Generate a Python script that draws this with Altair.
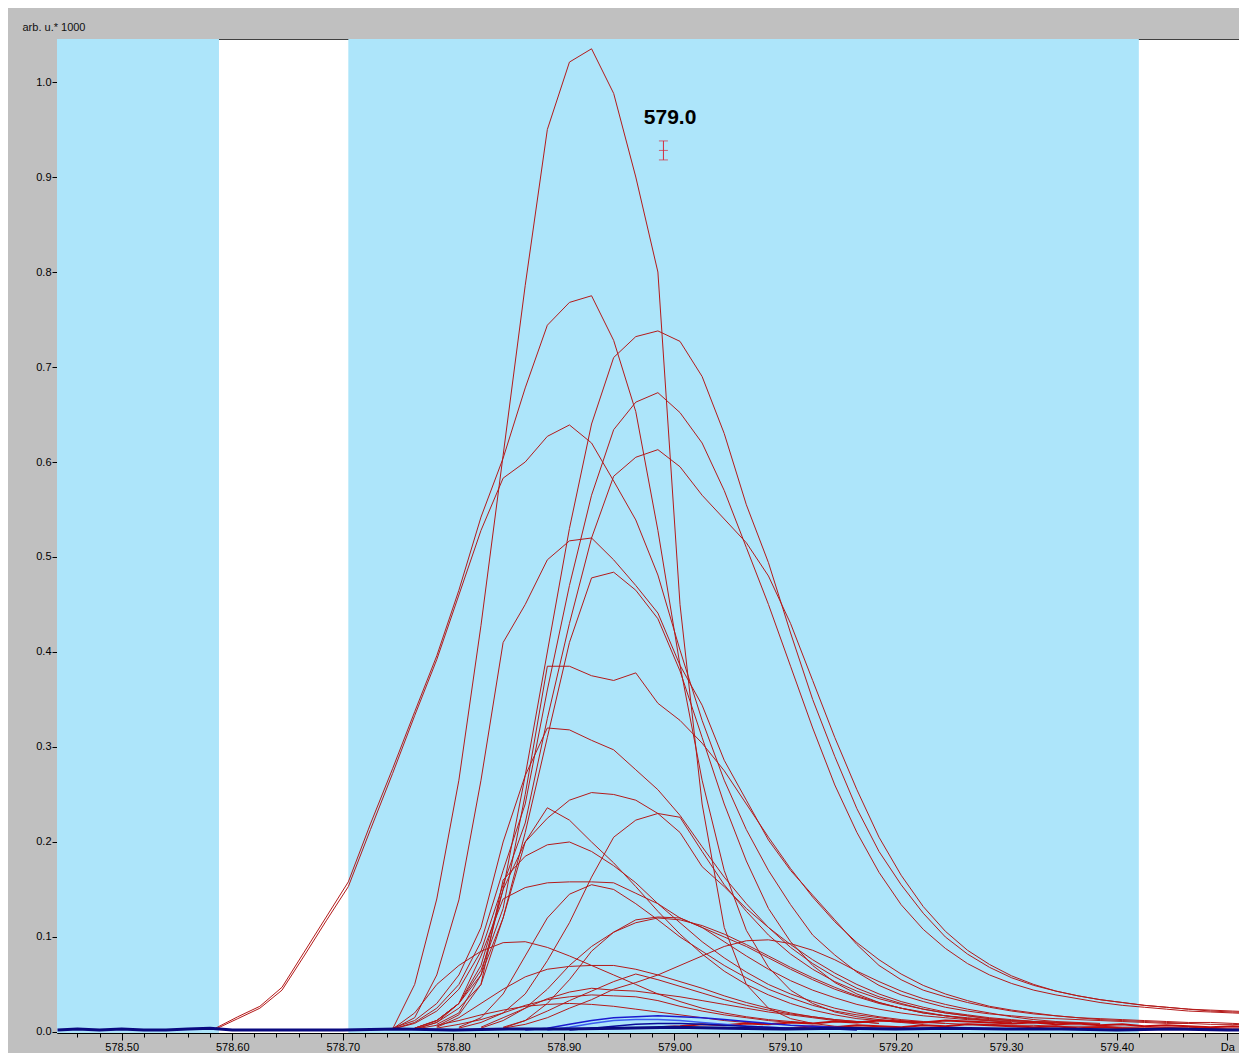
import altair as alt
import pandas as pd

# ---------------- data ----------------
# m/z grid on which the spectra were sampled
MZ = [578.585, 578.605, 578.625, 578.645, 578.665, 578.685, 578.705, 578.725,
      578.745, 578.765, 578.785, 578.805, 578.825, 578.845, 578.865, 578.885,
      578.905, 578.925, 578.945, 578.965, 578.985, 579.005, 579.025, 579.045,
      579.065, 579.085, 579.105, 579.125, 579.145, 579.165, 579.185, 579.205,
      579.225, 579.245, 579.265, 579.285, 579.305, 579.325, 579.345, 579.365,
      579.385, 579.405, 579.425, 579.445, 579.465, 579.485, 579.505, 579.525]

# red spectra: (first grid index, intensities in arb. u. * 1000)
T1 = (8, [0.003, 0.05, 0.14, 0.265, 0.428, 0.607, 0.786, 0.95, 1.021, 1.035, 0.988, 0.90, 0.80,
          0.45, 0.24, 0.11, 0.05, 0.025, 0.014, 0.009, 0.006, 0.005, 0.004, 0.004, 0.003])
T2 = (0, [0.004, 0.016, 0.027, 0.047, 0.084, 0.121, 0.158, 0.219, 0.277, 0.337, 0.396, 0.465,
          0.542, 0.604, 0.678, 0.744, 0.768, 0.775, 0.728, 0.653, 0.528, 0.386, 0.265, 0.17,
          0.107, 0.068, 0.044, 0.03, 0.021, 0.016, 0.013, 0.011, 0.01, 0.009, 0.008, 0.008,
          0.007, 0.007, 0.006, 0.006, 0.006, 0.005, 0.005, 0.005, 0.005, 0.004, 0.004, 0.004])
T3 = (0, [0.003, 0.014, 0.025, 0.044, 0.08, 0.117, 0.153, 0.213, 0.272, 0.333, 0.392, 0.46,
          0.528, 0.583, 0.60, 0.627, 0.639, 0.62, 0.58, 0.539, 0.481, 0.402, 0.328, 0.265,
          0.213, 0.17, 0.134, 0.102, 0.081, 0.063, 0.049, 0.039, 0.032, 0.026, 0.022, 0.019,
          0.017, 0.015, 0.014, 0.013, 0.012, 0.011, 0.01, 0.009, 0.009, 0.008, 0.008, 0.007])
R1 = (8, [0.004, 0.012, 0.03, 0.06, 0.11, 0.2, 0.27, 0.40, 0.53, 0.64, 0.71, 0.732, 0.738,
          0.727, 0.69, 0.63, 0.555, 0.494, 0.42, 0.35, 0.29, 0.235, 0.19, 0.155, 0.125, 0.1,
          0.082, 0.068, 0.057, 0.049, 0.043, 0.038, 0.034, 0.031, 0.028, 0.026, 0.024, 0.023,
          0.022, 0.021])
R2 = (8, [0.003, 0.01, 0.025, 0.05, 0.095, 0.17, 0.24, 0.36, 0.47, 0.565, 0.634, 0.663, 0.673,
          0.652, 0.62, 0.57, 0.51, 0.45, 0.385, 0.32, 0.26, 0.21, 0.168, 0.134, 0.108, 0.088,
          0.072, 0.06, 0.051, 0.044, 0.039, 0.035, 0.031, 0.028, 0.026, 0.024, 0.022, 0.021,
          0.02, 0.019])
R3 = (8, [0.003, 0.009, 0.022, 0.045, 0.085, 0.155, 0.22, 0.33, 0.43, 0.52, 0.585, 0.605, 0.613,
          0.595, 0.565, 0.54, 0.515, 0.48, 0.43, 0.37, 0.31, 0.255, 0.205, 0.165, 0.132, 0.106,
          0.086, 0.071, 0.059, 0.05, 0.043, 0.038, 0.034, 0.031, 0.028, 0.026, 0.024, 0.022,
          0.021, 0.02])
R4 = (8, [0.003, 0.015, 0.06, 0.139, 0.265, 0.41, 0.45, 0.497, 0.517, 0.52, 0.497, 0.47, 0.441,
          0.386, 0.344, 0.286, 0.244, 0.202, 0.17, 0.144, 0.118, 0.092, 0.07, 0.055, 0.044,
          0.037, 0.031, 0.026, 0.022, 0.019, 0.017, 0.015, 0.014, 0.013, 0.012, 0.011, 0.01,
          0.01, 0.009, 0.008])
R5 = (9, [0.004, 0.012, 0.03, 0.06, 0.12, 0.21, 0.31, 0.41, 0.478, 0.484, 0.465, 0.435, 0.38,
          0.31, 0.24, 0.18, 0.13, 0.095, 0.07, 0.052, 0.04, 0.031, 0.025, 0.02, 0.017, 0.015,
          0.013, 0.012, 0.011, 0.01, 0.009, 0.008])
R6 = (9, [0.004, 0.012, 0.03, 0.065, 0.13, 0.25, 0.385, 0.385, 0.375, 0.37, 0.378, 0.346, 0.328,
          0.304, 0.275, 0.24, 0.205, 0.172, 0.142, 0.116, 0.094, 0.076, 0.061, 0.049, 0.04,
          0.033, 0.027, 0.023, 0.02, 0.017, 0.015, 0.013, 0.012, 0.011, 0.01, 0.009])
R7 = (9, [0.004, 0.012, 0.03, 0.07, 0.15, 0.27, 0.32, 0.318, 0.307, 0.297, 0.276, 0.255, 0.228,
          0.195, 0.163, 0.135, 0.11, 0.089, 0.072, 0.058, 0.046, 0.037, 0.03, 0.024, 0.02,
          0.017, 0.014, 0.012, 0.011, 0.01, 0.009])
R8 = (9, [0.003, 0.01, 0.025, 0.05, 0.12, 0.2, 0.225, 0.244, 0.252, 0.25, 0.244, 0.23, 0.21,
          0.174, 0.153, 0.13, 0.11, 0.092, 0.076, 0.062, 0.05, 0.04, 0.032, 0.026, 0.021, 0.018,
          0.015, 0.013, 0.011, 0.01, 0.009])
R9 = (10, [0.008, 0.02, 0.06, 0.15, 0.2, 0.236, 0.223, 0.2, 0.178, 0.153, 0.127, 0.103, 0.082,
           0.064, 0.05, 0.039, 0.03, 0.023, 0.018, 0.014, 0.012, 0.01, 0.008])
R10 = (11, [0.004, 0.01, 0.02, 0.04, 0.075, 0.115, 0.163, 0.205, 0.223, 0.23, 0.226, 0.19, 0.155,
            0.127, 0.102, 0.082, 0.066, 0.053, 0.043, 0.035, 0.029, 0.024, 0.02, 0.017, 0.014,
            0.012, 0.011, 0.01])
R11 = (10, [0.006, 0.018, 0.05, 0.16, 0.185, 0.197, 0.2, 0.19, 0.175, 0.157, 0.135, 0.115, 0.095,
            0.078, 0.063, 0.05, 0.04, 0.032, 0.025, 0.02, 0.016, 0.013, 0.011, 0.009])
R12 = (9, [0.003, 0.01, 0.03, 0.08, 0.14, 0.152, 0.157, 0.158, 0.158, 0.157, 0.146, 0.135, 0.12,
           0.11, 0.095, 0.08, 0.066, 0.054, 0.044, 0.036, 0.029, 0.024, 0.02, 0.017, 0.015,
           0.013, 0.012, 0.011, 0.01])
R13 = (11, [0.005, 0.015, 0.04, 0.08, 0.12, 0.145, 0.155, 0.15, 0.135, 0.118, 0.1, 0.085, 0.07,
            0.057, 0.045, 0.036, 0.028, 0.022, 0.018, 0.015, 0.012, 0.01])
R14 = (13, [0.004, 0.012, 0.03, 0.055, 0.085, 0.105, 0.118, 0.121, 0.12, 0.11, 0.1, 0.09, 0.078,
            0.066, 0.055, 0.045, 0.037, 0.03, 0.025, 0.02, 0.017, 0.014, 0.012, 0.01])
R15 = (13, [0.004, 0.008, 0.015, 0.025, 0.034, 0.045, 0.052, 0.06, 0.07, 0.08, 0.09, 0.096, 0.097,
            0.093, 0.086, 0.076, 0.064, 0.053, 0.043, 0.035, 0.029, 0.024, 0.02, 0.016, 0.013,
            0.011, 0.01, 0.009])
R16 = (8, [0.003, 0.02, 0.05, 0.07, 0.085, 0.094, 0.095, 0.089, 0.08, 0.07, 0.06, 0.05, 0.04,
           0.032, 0.025, 0.02, 0.016, 0.013, 0.011, 0.009])
R17 = (10, [0.005, 0.015, 0.03, 0.045, 0.058, 0.066, 0.069, 0.07, 0.07, 0.066, 0.06, 0.053, 0.046,
            0.038, 0.031, 0.025, 0.02, 0.016, 0.013, 0.011, 0.009])
R18 = (12, [0.005, 0.015, 0.025, 0.035, 0.042, 0.046, 0.044, 0.043, 0.04, 0.037, 0.033, 0.029,
            0.025, 0.021, 0.018, 0.015, 0.012, 0.01])
R19 = (13, [0.005, 0.012, 0.022, 0.033, 0.043, 0.053, 0.061, 0.055, 0.048, 0.041, 0.034, 0.028,
            0.023, 0.019, 0.016, 0.013, 0.011, 0.009])
R20 = (10, [0.004, 0.008, 0.013, 0.02, 0.028, 0.034, 0.037, 0.039, 0.038, 0.037, 0.033, 0.027,
            0.022, 0.018, 0.015, 0.012, 0.01])
R21 = (9, [0.003, 0.007, 0.012, 0.018, 0.023, 0.027, 0.029, 0.03, 0.029, 0.027, 0.024, 0.021,
           0.018, 0.015, 0.012, 0.01, 0.008])
R22 = (12, [0.004, 0.012, 0.025, 0.045, 0.07, 0.09, 0.105, 0.115, 0.12, 0.118, 0.112, 0.103,
            0.092, 0.08, 0.068, 0.057, 0.047, 0.038, 0.031, 0.025, 0.021, 0.017, 0.014, 0.012,
            0.01])
RED_SERIES = {"T1": T1, "T2": T2, "T3": T3, "R1": R1, "R2": R2, "R3": R3, "R4": R4, "R5": R5,
              "R6": R6, "R7": R7, "R8": R8, "R9": R9, "R10": R10, "R11": R11, "R12": R12,
              "R13": R13, "R14": R14, "R15": R15, "R16": R16, "R17": R17, "R18": R18,
              "R19": R19, "R20": R20, "R21": R21, "R22": R22}

# noisy red traces near the baseline
RN1 = (20, [0.005, 0.006, 0.008, 0.007, 0.009, 0.008, 0.01, 0.009, 0.011, 0.01, 0.012, 0.011,
            0.01, 0.012, 0.011, 0.01, 0.009, 0.01, 0.008, 0.009, 0.007, 0.008, 0.006, 0.007,
            0.006, 0.005, 0.006, 0.005])
RN2 = (25, [0.003, 0.004, 0.006, 0.005, 0.007, 0.006, 0.005, 0.007, 0.006, 0.008, 0.007, 0.006,
            0.005, 0.006, 0.004, 0.005, 0.004, 0.003, 0.004, 0.003, 0.003, 0.002, 0.002])
NOISE_SERIES = {"RN1": RN1, "RN2": RN2}

# blue traces
B1 = (14, [0.002, 0.004, 0.008, 0.012, 0.015, 0.016, 0.017, 0.016, 0.015, 0.013, 0.011, 0.009,
           0.007, 0.006, 0.005, 0.004, 0.003, 0.003])
B2 = (15, [0.002, 0.005, 0.009, 0.012, 0.013, 0.013, 0.012, 0.01, 0.008, 0.006, 0.005, 0.004,
           0.003])
B3 = (16, [0.002, 0.004, 0.006, 0.008, 0.009, 0.009, 0.008, 0.007, 0.006, 0.005, 0.004, 0.003,
           0.003, 0.002])
BLUE_SERIES = {"B1": B1, "B2": B2, "B3": B3}
BLUE_COLORS = ["#1a1ad0", "#3a5cf0", "#0a0a9a"]

# dark blue baseline over the whole window
BASE_MZ = [578.442, 578.46, 578.48, 578.5, 578.52, 578.54, 578.56, 578.58, 578.6, 578.65,
           578.7, 578.75, 578.8, 578.85, 578.9, 578.95, 579.0, 579.05, 579.1, 579.15, 579.2,
           579.25, 579.3, 579.35, 579.4, 579.45, 579.5, 579.52]
BASE_Y = [0.002, 0.003, 0.002, 0.003, 0.002, 0.002, 0.003, 0.004, 0.002, 0.002, 0.002, 0.003,
          0.002, 0.003, 0.003, 0.004, 0.005, 0.004, 0.003, 0.004, 0.003, 0.004, 0.003, 0.003,
          0.002, 0.003, 0.002, 0.002]

# highlighted (cyan) windows
BAND_START = [578.40, 578.705]
BAND_END = [578.588, 579.420]

# peak label with its error marker
LABEL_MZ = [578.996]
LABEL_Y = [0.962]
LABEL_TEXT = ["579.0"]
ERR_MZ = [578.990]
ERR_LO = [0.918]
ERR_MID = [0.928]
ERR_HI = [0.938]

# axis ticks
X_TICKS = [578.46, 578.48, 578.50, 578.52, 578.54, 578.56, 578.58, 578.60, 578.62, 578.64,
           578.66, 578.68, 578.70, 578.72, 578.74, 578.76, 578.78, 578.80, 578.82, 578.84,
           578.86, 578.88, 578.90, 578.92, 578.94, 578.96, 578.98, 579.00, 579.02, 579.04,
           579.06, 579.08, 579.10, 579.12, 579.14, 579.16, 579.18, 579.20, 579.22, 579.24,
           579.26, 579.28, 579.30, 579.32, 579.34, 579.36, 579.38, 579.40, 579.42, 579.44,
           579.46, 579.48, 579.50]
Y_TICKS = [0.0, 0.1, 0.2, 0.3, 0.4, 0.5, 0.6, 0.7, 0.8, 0.9, 1.0]

# ---------------- tables ----------------
def long_table(series):
    rows = []
    for name, (start, vals) in series.items():
        for m, v in zip(MZ[start:], vals):
            rows.append({"s": name, "mz": m, "y": v})
    return pd.DataFrame(rows)

red_df = long_table(RED_SERIES)
noise_df = long_table(NOISE_SERIES)
blue_df = long_table(BLUE_SERIES)
base_df = pd.DataFrame({"mz": BASE_MZ, "y": BASE_Y})
band_df = pd.DataFrame({"mz": BAND_START, "mz2": BAND_END})
label_df = pd.DataFrame({"mz": LABEL_MZ, "y": LABEL_Y, "t": LABEL_TEXT})
err_df = pd.DataFrame({"mz": ERR_MZ, "lo": ERR_LO, "mid": ERR_MID, "hi": ERR_HI})

# ---------------- chart ----------------
W, H = 1182, 994
X_MIN, X_MAX = 578.4415, 579.5106
Y_MIN, Y_MAX = -0.0011, 1.0453
FONT = "Liberation Sans"

xs = alt.Scale(domain=[X_MIN, X_MAX], nice=False, zero=False)
ys = alt.Scale(domain=[Y_MIN, Y_MAX], nice=False, zero=False)

major = "abs(datum.value*10 - round(datum.value*10)) < 0.01"
x_axis = alt.Axis(
    values=X_TICKS, title=None, grid=False,
    labelExpr=f"({major}) ? (datum.value > 579.45 ? 'Da' : format(datum.value, '.2f')) : ''",
    tickSize={"condition": {"test": major, "value": 7}, "value": 4},
    labelFlush=False, labelOverlap=False, labelPadding=1,
    labelFont=FONT, labelFontSize=11, labelColor="#000000",
    domainColor="#000000", tickColor="#000000", domainWidth=1,
)
y_axis = alt.Axis(
    values=Y_TICKS, format=".1f", grid=False, tickSize=5, labelPadding=1,
    labelFont=FONT, labelFontSize=11, labelColor="#000000",
    tickColor="#000000", domain=False,
    title="arb. u.* 1000", titleAngle=0, titleX=-35, titleY=-12,
    titleAlign="left", titleBaseline="middle", titleFont=FONT,
    titleFontSize=11, titleFontWeight="normal", titleColor="#101010",
)

X = lambda f="mz": alt.X(f, type="quantitative", scale=xs, axis=x_axis)
Y = lambda f="y": alt.Y(f, type="quantitative", scale=ys, axis=y_axis)

bands = alt.Chart(band_df).mark_rect(color="#ADE5FA", clip=True).encode(
    x=X(), x2="mz2", y=alt.datum(Y_MAX, scale=ys, axis=y_axis), y2=alt.datum(Y_MIN)
)

red = alt.Chart(red_df).mark_line(color="#b41a1a", strokeWidth=1, clip=True).encode(
    x=X(), y=Y(), detail="s:N"
)
noise = alt.Chart(noise_df).mark_line(color="#c00c0c", strokeWidth=2, clip=True).encode(
    x=X(), y=Y(), detail="s:N"
)
blue = alt.Chart(blue_df).mark_line(strokeWidth=1.5, clip=True).encode(
    x=X(), y=Y(),
    color=alt.Color("s:N", scale=alt.Scale(domain=list(BLUE_SERIES), range=BLUE_COLORS),
                    legend=None),
)
base = alt.Chart(base_df).mark_line(color="#0a0a80", strokeWidth=3, clip=True).encode(
    x=X(), y=Y()
)

err_rule = alt.Chart(err_df).mark_rule(color="#d42a3c", strokeWidth=1).encode(
    x=X(), y=Y("lo"), y2="hi"
)
err_ticks = alt.Chart(err_df).transform_fold(["lo", "mid", "hi"], as_=["k", "v"]).mark_tick(
    color="#d42a3c", orient="horizontal", size=9, thickness=1
).encode(x=X(), y=Y("v:Q"))

label = alt.Chart(label_df).mark_text(
    font=FONT, fontSize=21, fontWeight="bold", color="#000000",
    align="center", baseline="middle"
).encode(x=X(), y=Y(), text="t:N")

chart = alt.layer(bands, red, noise, blue, base, err_rule, err_ticks, label).properties(
    width=W, height=H,
    autosize=alt.AutoSizeParams(type="none"),
    padding={"left": 49, "top": 31, "right": 0, "bottom": 20},
    background="#C0C0C0",
).configure_view(stroke="#404040", strokeWidth=1, fill="#FFFFFF")

chart.save("out.html", embed_options={"renderer": "svg", "actions": False})
